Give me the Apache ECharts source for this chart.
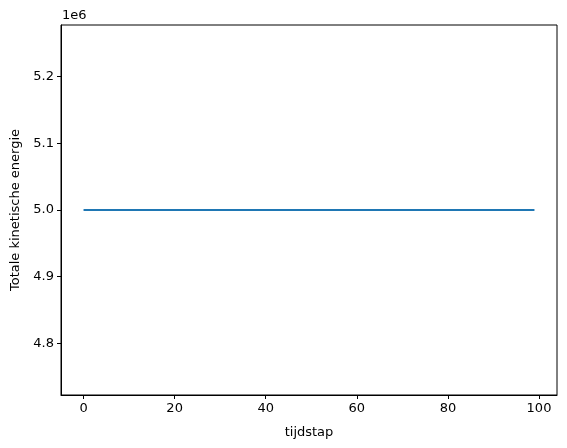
<!DOCTYPE html>
<html>
<head>
<meta charset="utf-8">
<script src="https://cdn.jsdelivr.net/npm/echarts@6/dist/echarts.min.js"></script>
<style>
  html, body { margin: 0; padding: 0; background: #fff; }
  #chart { width: 567px; height: 448px; }
</style>
</head>
<body>
<div id="chart"></div>
<script>
// tijdstap 0..99, energie blijft constant
var tijdstap = [];
for (var i = 0; i < 100; i++) tijdstap.push(i);
var energie = [
  5000000, 5000000, 5000000, 5000000, 5000000, 5000000, 5000000, 5000000, 5000000, 5000000,
  5000000, 5000000, 5000000, 5000000, 5000000, 5000000, 5000000, 5000000, 5000000, 5000000,
  5000000, 5000000, 5000000, 5000000, 5000000, 5000000, 5000000, 5000000, 5000000, 5000000,
  5000000, 5000000, 5000000, 5000000, 5000000, 5000000, 5000000, 5000000, 5000000, 5000000,
  5000000, 5000000, 5000000, 5000000, 5000000, 5000000, 5000000, 5000000, 5000000, 5000000,
  5000000, 5000000, 5000000, 5000000, 5000000, 5000000, 5000000, 5000000, 5000000, 5000000,
  5000000, 5000000, 5000000, 5000000, 5000000, 5000000, 5000000, 5000000, 5000000, 5000000,
  5000000, 5000000, 5000000, 5000000, 5000000, 5000000, 5000000, 5000000, 5000000, 5000000,
  5000000, 5000000, 5000000, 5000000, 5000000, 5000000, 5000000, 5000000, 5000000, 5000000,
  5000000, 5000000, 5000000, 5000000, 5000000, 5000000, 5000000, 5000000, 5000000, 5000000
];
var xTicks = [0, 20, 40, 60, 80, 100];
var yTicks = [4800000, 4900000, 5000000, 5100000, 5200000];

var font = 'DejaVu Sans';
var fs = 13;
var myChart = echarts.init(document.getElementById('chart'));

var axisCommon = {
  axisLine: { show: true, onZero: false, lineStyle: { color: '#000', width: 1 } },
  axisTick: { show: true, length: 4, lineStyle: { color: '#000', width: 1 } },
  splitLine: { show: false },
  nameTextStyle: { fontFamily: font, fontSize: fs, color: '#000' }
};

myChart.setOption({
  animation: false,
  grid: {
    left: 61, top: 25, right: 10, bottom: 53,
    containLabel: false, outerBoundsMode: 'none',
    show: true, borderColor: '#000', borderWidth: 1
  },
  graphic: [{
    type: 'text', left: 62, top: 9,
    style: { text: '1e6', font: fs + 'px "DejaVu Sans"', fill: '#000' }
  }],
  xAxis: Object.assign({}, axisCommon, {
    type: 'value',
    min: -4.95, max: 103.95,
    name: 'tijdstap', nameLocation: 'middle', nameGap: 31,
    axisTick: Object.assign({}, axisCommon.axisTick, { customValues: xTicks }),
    axisLabel: { customValues: xTicks, fontFamily: font, fontSize: fs, color: '#000', margin: 7 }
  }),
  yAxis: Object.assign({}, axisCommon, {
    type: 'value',
    min: 4722400, max: 5277600,
    name: 'Totale kinetische energie', nameLocation: 'middle', nameGap: 39,
    axisTick: Object.assign({}, axisCommon.axisTick, { customValues: yTicks }),
    axisLabel: {
      customValues: yTicks, fontFamily: font, fontSize: fs, color: '#000', margin: 7,
      formatter: function (v) { return (v / 1e6).toFixed(1); }
    }
  }),
  series: [{
    type: 'line',
    data: tijdstap.map(function (t, i) { return [t, energie[i]]; }),
    showSymbol: false,
    lineStyle: { color: '#1f77b4', width: 2 },
    itemStyle: { color: '#1f77b4' }
  }]
});
</script>
</body>
</html>
